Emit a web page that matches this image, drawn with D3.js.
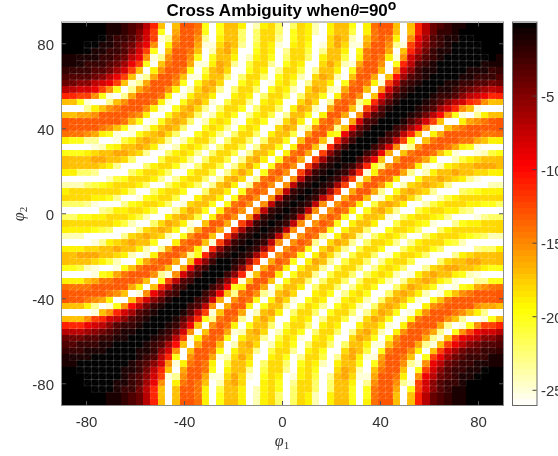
<!DOCTYPE html>
<html>
<head>
<meta charset="utf-8">
<script src="https://cdn.jsdelivr.net/npm/d3@7"></script>
<style>
html,body{margin:0;padding:0;background:#fff;overflow:hidden}
svg{display:block}
text{font-family:"Liberation Sans",Arial,sans-serif;fill:#333}
</style>
</head>
<body>
<div id="chart"></div>
<script>
// Heat-map cell values, top row first, left column first.
// One character per cell: position in levelCodes = attenuation in dB.
const levelCodes = "0123456789abcdefghijklmnopq";
const levelRows = [
"0 0000011234 7bhqhddekq khhjqojimq mijoqjhhkq jeddhqhb74 321100000",
"0 0000011235 8ckqgddekq khhmqmiimq kijoqjhhlq jeddhqhb74 221000000",
"0 0000012235 8cpnfddfnq jhhmqmiinq kijqqighoq hedejqf963 211000000",
"0 0000112347 9fqjeddgpp ighnqlijpq jikqpigipp gddfnpc853 210000000",
"0 0001122358 ckqhddehqo hgiqqkijqn iilqnhhjqk eddgqhb742 110000000",
"1 1111223479 fpnfddfkqk hhjqojikqm iimqjhhlqj edejpf8532 100000001",
"1 112223469c kqheddgppj ghnqliinqk ijqqigiopg ddfqkb7321 000000111",
"2 22233468ch qjfddekqlh giqqkijqni ilqnhhjqke ddhqf85211 000011122",
"3 3334579chp ngddehppjh hmqmiimqki joqighoqhd dgqha63210 000112223",
"4 455789chpn gdddfkqkhg iqqkijqpji lqnhhjqked ejpc732100 011223344",
"7 7889cfkqng eddfjqoigh nqmiimqkij oqighopgdd hqf8421000 112345677",
"b bccfkpqngd ddejqpjhhj qqjijqmiil qmhhkqjedf qh95210001 2235789bb",
"h hkpqqnhfdd dejpqkhgip qliinqjijq qigiqneden kb63100012 3578bcfhh",
"q qqnjhfeddd fjpqkhginq miikqmiimq jghoqgddhp c731000123 68bfhpqqq",
"h hggfddddef jqqkhghmqo jikqnjilqn hhkqjddgqf 7320001247 afkpqnjhh",
"d dddddddehk qpkhghmqoj ijpqjikqpi gjqkedfqg8 320001358c hqqjgfedd",
"d ddddefhkpq ojhghmqqki jnqkijqqig hpnfdenh94 20002369fp qhfeddddd",
"e eefgjkpqpk ihgimqqkij nqmiimqjhh lqgddjk942 000237bhqj gdddddeee",
"j kknnqqpljh ghinqokiim qmiimqmhhk qhddhpb520 00237ckqhe dddeeghjj",
"q qqqpokjhhg hjpqojijmq miilqnhhkq jddhpb5200 0248fpnfdd degjkpqqq",
"k kkjihhgghi nqqmjijnqm iilqnhhjqj edgqc52000 249gqhedde hkpqqpolk",
"h hhhgghhimq qqliijnqmi ilqnhgjqke dgqc621002 59hqgddegk qqoljihhh",
"h hhhhijnqqq mjiikpqmii lqnigjqked fqc6210125 bknfddejpq ojihhgggh",
"j jmmnqqqqmk iijmqqkiil qnigiqkedf qc6210125b pjeddgnqoj hhghhiijj",
"q qqqqqolkii ijnqnjiimq nhgiqnedfq f7210126cp hddejqqkhh ghijnpqqq",
"o oomlkjiiij mqqmjijmqn hgjqnedfqf 7210126cqh ddfkqoihgh inqqqqqoo",
"j iiiiiiijmq qmjiikqqmh hjqkedeqf7 210126cqgd dgnqkhghin qqqmlkjjj",
"i iiijjknqqp kjiilqqjhh jqkedfqf72 10127cqgdd hqpjhgimqq oljiiiiii",
"m mmnpqqqnkj iijmqpihhk qkedfqf721 0127fqfdej qlhghjqqol jiiijjkkm",
"qqqqqnmjji ijlqqnighk qjedfqf721 0127fqfdej qkhginqqlj iijjmnqqqq",
"mmkkjjiiij loqqjhghlq jedfqf7210 127fqfdekq khhipqmjii jknqqqpnmm",
"iiiiiiijlo qqmighjpqh ddgqc72101 27fqfdekqj hhjqqliijk pqqnkjjiii",
"jjjjklmqqq nihghkqngd dgqc621012 7fqedekqjh hmqqkiijmq qmjiiiiiii",
"oooqqqqqni hghioqkfdd hqc6210127 fqfdenqjgh nqmjijmqqm jiiijklmoo",
"qqqqpnjihg hhkqqjeddh pc6210127f qfdenqighn qmiijnqnji iikloqqqqq",
"jjjiihhghh joqngddejp b5210126cq fdekqiginq liikqqmjii kmqqqqnmmj",
"hhggghhijo qpjeddfnkb 5210126cqf dekqjginql iimqpkiijm qqqnjihhhh",
"hhhhijloqq kgeddgqh95 200126cqgd ekqjghnqli imqnjiilqq qmihhgghhh",
"kklopqqpkh eddehqg942 00025cqgde jqjhhnqlii mqnjijmqqn ihgghhijkk",
"qqqqpkjged ddfnpf8420 0025bphddj qkhhnqliim qmjijoqpjh ghhjkopqqq",
"jjjhgeeddd ehqkc73200 025bphddhq khhmqmiimq miikoqnihg hjlpqqnnkk",
"eeeedddddg jqhb732000 249kjddgql hhjqmiimqn jikqqmighi kpqpkjgfee",
"ddddddefhq pf96320002 49hnedfnph giqqjikqnj ikqqmhghjo qpkhfedddd",
"dddefgjqqh c853100023 8gqfdekqjg ipqkijqpji joqmhghkpq kheddddddd",
"hhhjnqpkfa 7421000237 fqgddjqkhh nqlijnqkij oqmhghkqqj feddddfggh",
"qqqqphfb86 321000137c phddgqohgj qmiimqkiim qnighkqpjf dddefhjnqq",
"hhhfcb8753 21000136bk nedenqigiq qjijqniilq pighkqpjed ddfhnqqpkh",
"bbb9875322 10001259hq fdejqkhhmq liimqjijqq jhhjpqjedd dgnqpkfccb",
"7776543211 0001248fqh ddgpohgiqo jikqmiimqn hgioqjfdde gnqkfc9887",
"4443322110 001237cpje dekqjhhnql ijpqjikqqi ghkqkfdddg nphc987554",
"3322211000 01236ahqgd dhqohgiqoj ikqmiimqmh hjppheddgn phc9754333",
"2221110000 11258fqhdd ekqjhhnqli inqjikqqig hlqkeddfjq hc86433222",
"1111000000 1237bkqfdd gpoigiqqji kqniilqnhg jppgddehqk c964322211",
"1100000001 2358fpjede jqlhhjqmii mqkijoqjhh kqkfddfnpf 9743221111",
"0000000011 247bhqgdde kqjhhnqlii nqjikqqigh oqheddhqkc 8532211000",
"0000000012 358cpnfddg ppigipqkij qpjilqnhgi ppgddejqf9 7432110000",
"0000000112 369fqjedeh qohgiqqjik qniimqmhhj qnfddfnpc8 5322100000",
"0000000122 47bhqhddej qlhhjqojik qmiimqmhhk qkeddgqkc8 5321100000",
"0000001123 47bhqhddej qkhhjqojim qmijoqjhhk qkeddhqhb7 4321100000",
"0000001123 47bhqhddej qkhhjqojim qmijoqjhhk qjeddhqhb7 4321100000"
];
const phi1Start = -90, phi2Top = 90, cellStep = 3;
const tickValues = [-80, -40, 0, 40, 80];
const colorbarTicks = [-5, -10, -15, -20, -25];
const dbStops = [-26, -19.5, -9.75, 0];
const colorStops = ["#ffffff", "#ffff00", "#ff0000", "#000000"];
const colorBandCount = 64;
// First and one-past-last column of the faint triangular mesh in each row.
const meshStart = [60,12,5,3,3,2,2,1,1,1,1,1,1,1,1,1,1,1,1,1,1,1,1,1,1,1,1,1,1,1,1,1,1,1,1,1,1,1,1,1,1,1,1,1,1,1,1,1,1,1,1,1,1,2,2,3,3,4,12,60];
const meshEnd   = [60,48,56,57,57,58,58,59,59,59,59,59,59,59,59,59,59,59,59,59,59,59,59,59,59,59,59,59,59,59,59,59,59,59,59,59,59,59,59,59,59,59,59,59,59,59,59,59,59,59,59,59,58,58,58,57,55,53,48,60];

const W = 558, H = 456;
const ax = {l: 62, r: 503, t: 22.5, b: 405};
const cb = {l: 513, r: 536.5, t: 22.5, b: 405};
const svg = d3.select("#chart").append("svg").attr("width", W).attr("height", H);

const x = d3.scaleLinear().domain([-90, 90]).range([ax.l, ax.r]);
const y = d3.scaleLinear().domain([-90, 90]).range([ax.b, ax.t]);
const color = d3.scaleLinear().domain(dbStops).range(colorStops).interpolate(d3.interpolateRgb);

const cells = [];
levelRows.forEach((row, r) => {
  row.replace(/\s/g, "").split("").forEach((ch, c) => {
    cells.push({
      phi1: phi1Start + c * cellStep,
      phi2: phi2Top - (r + 1) * cellStep,
      db: -levelCodes.indexOf(ch)
    });
  });
});

svg.append("g").attr("shape-rendering", "crispEdges").selectAll("rect").data(cells).join("rect")
  .attr("x", d => x(d.phi1))
  .attr("y", d => y(d.phi2 + cellStep))
  .attr("width", d => x(d.phi1 + cellStep) - x(d.phi1))
  .attr("height", d => y(d.phi2) - y(d.phi2 + cellStep))
  .attr("fill", d => color(d.db));

// mesh overlay
const gridPath = d3.path(), diagPath = d3.path();
meshStart.forEach((start, r) => {
  const top = phi2Top - r * cellStep, bot = top - cellStep;
  for (let c = start; c < meshEnd[r]; c++) {
    const a = phi1Start + c * cellStep, b = a + cellStep;
    gridPath.moveTo(x(a), y(top)); gridPath.lineTo(x(b), y(top));
    gridPath.moveTo(x(a), y(bot)); gridPath.lineTo(x(b), y(bot));
    gridPath.moveTo(x(a), y(top)); gridPath.lineTo(x(a), y(bot));
    gridPath.moveTo(x(b), y(top)); gridPath.lineTo(x(b), y(bot));
    diagPath.moveTo(x(a), y(bot)); diagPath.lineTo(x(b), y(top));
  }
});
svg.append("path").attr("d", gridPath.toString()).attr("fill", "none")
  .attr("stroke", "#fff").attr("stroke-opacity", 0.11).attr("stroke-width", 0.8);
svg.append("path").attr("d", diagPath.toString()).attr("fill", "none")
  .attr("stroke", "#fff").attr("stroke-opacity", 0.07).attr("stroke-width", 0.7);
svg.append("path").attr("d", diagPath.toString()).attr("fill", "none")
  .attr("stroke", "#fff").attr("stroke-opacity", 0.4).attr("stroke-width", 0.7)
  .style("mix-blend-mode", "overlay");

// axes box
const axisColor = "#8c8c8c", tickColor = "#555";
svg.append("rect").attr("x", ax.l - 0.5).attr("y", ax.t - 0.5)
  .attr("width", ax.r - ax.l + 1).attr("height", ax.b - ax.t + 1)
  .attr("fill", "none").attr("stroke", axisColor).attr("stroke-width", 1);
const tickLen = 4;
tickValues.forEach(v => {
  [[ax.b, -tickLen], [ax.t, tickLen]].forEach(([p, d]) =>
    svg.append("line").attr("x1", x(v)).attr("x2", x(v)).attr("y1", p).attr("y2", p + d).attr("stroke", tickColor));
  [[ax.l, tickLen], [ax.r, -tickLen]].forEach(([p, d]) =>
    svg.append("line").attr("y1", y(v)).attr("y2", y(v)).attr("x1", p).attr("x2", p + d).attr("stroke", tickColor));
});
svg.append("g").selectAll("text").data(tickValues).join("text")
  .attr("x", d => x(d)).attr("y", 427).attr("text-anchor", "middle")
  .attr("font-size", 15).text(d => d);
svg.append("g").selectAll("text").data(tickValues).join("text")
  .attr("x", 54).attr("y", d => y(d) + 6).attr("text-anchor", "end")
  .attr("font-size", 15).text(d => d);

// colour bar
const yc = d3.scaleLinear().domain([-26, 0]).range([cb.b, cb.t]);
const bands = d3.range(colorBandCount);
svg.append("g").attr("shape-rendering", "crispEdges").selectAll("rect").data(bands).join("rect")
  .attr("x", cb.l).attr("width", cb.r - cb.l)
  .attr("y", i => yc(-26 * i / colorBandCount))
  .attr("height", i => yc(-26 * (i + 1) / colorBandCount) - yc(-26 * i / colorBandCount))
  .attr("fill", i => color(-26 * (i + 0.5) / colorBandCount));
svg.append("rect").attr("x", cb.l - 0.5).attr("y", cb.t - 0.5)
  .attr("width", cb.r - cb.l + 1).attr("height", cb.b - cb.t + 1)
  .attr("fill", "none").attr("stroke", "#666").attr("stroke-width", 1);
colorbarTicks.forEach(v => {
  svg.append("line").attr("x1", cb.r).attr("x2", cb.r - 4).attr("y1", yc(v)).attr("y2", yc(v)).attr("stroke", "#444");
  svg.append("text").attr("x", 541).attr("y", yc(v) + 6).attr("font-size", 15).text(v);
});

// title
const title = svg.append("text").attr("x", 281.5).attr("y", 16).attr("text-anchor", "middle")
  .attr("font-size", 17).attr("font-weight", "bold").style("fill", "#000");
title.append("tspan").text("Cross Ambiguity when");
title.append("tspan").attr("font-style", "italic").attr("font-family", "'Liberation Serif',serif").text("θ");
title.append("tspan").text("=90");
title.append("tspan").attr("dy", -6).attr("font-size", 14).text("o");

// axis labels
function mathLabel(g, sub) {
  g.attr("font-family", "'Liberation Serif',serif").style("font-family", "'Liberation Serif',serif");
  g.append("tspan").attr("font-style", "italic").attr("font-size", 16)
    .style("font-family", "'Liberation Serif',serif").text("φ");
  g.append("tspan").attr("font-size", 11).attr("dy", 3)
    .style("font-family", "'Liberation Serif',serif").text(sub);
}
mathLabel(svg.append("text").attr("x", 282).attr("y", 446).attr("text-anchor", "middle"), "1");
mathLabel(svg.append("text").attr("transform", "translate(24,214) rotate(-90)").attr("text-anchor", "middle"), "2");
</script>
</body>
</html>
